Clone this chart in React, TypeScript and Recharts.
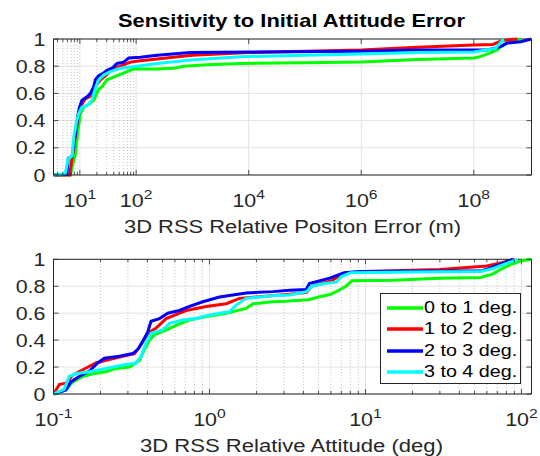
import React from 'react';
import { LineChart, Line, XAxis, YAxis, CartesianGrid, ReferenceLine, Legend } from 'recharts';

const FONT = '"Liberation Sans", Arial, Helvetica, sans-serif';
const INK = '#262626';
const SX = 1.16; // the original figure's text is drawn a bit wide

const seriesNames = ['0 to 1 deg.', '1 to 2 deg.', '2 to 3 deg.', '3 to 4 deg.'];
const seriesColors = ['#00ff00', '#ff0000', '#0000ff', '#00ffff'];

const yTicks = [0, 0.2, 0.4, 0.6, 0.8, 1];

// upper plot: relative position error (m) vs fraction
const posDomain = [3.4, 1.06e9];
const posTicks = [10, 100, 1e4, 1e6, 1e8];
const posMinor = [4, 5, 6, 7, 8, 9, 20, 30, 40, 50, 60, 70, 80, 90];

const posGreen = [
  [3.4, 0], [6.8, 0], [7.3, 0.06], [8.3, 0.15], [9.1, 0.3], [10.2, 0.45], [11.7, 0.5], [14.4, 0.52],
  [17.6, 0.55], [21.6, 0.63], [24.8, 0.65], [30.4, 0.7], [39.9, 0.72], [52.5, 0.74], [69, 0.76],
  [90.6, 0.78], [235, 0.78], [466, 0.785], [700, 0.8], [1820, 0.81], [7130, 0.82], [1e5, 0.825],
  [1e6, 0.83], [1e7, 0.85], [1e8, 0.86], [1.3e8, 0.87], [1.75e8, 0.89], [2.6e8, 0.92], [3.4e8, 0.96],
  [4.5e8, 0.985], [6.8e8, 1.0],
];
const posRed = [
  [3.4, 0], [6.6, 0], [7.0, 0.08], [7.8, 0.2], [8.9, 0.38], [10.2, 0.5], [12.5, 0.56], [15.4, 0.58],
  [18.9, 0.65], [23.2, 0.7], [30.4, 0.74], [37.3, 0.78], [52.5, 0.8], [79, 0.83], [119, 0.84],
  [1000, 0.88], [1e4, 0.9], [1e5, 0.91], [1e6, 0.92], [1e7, 0.94], [1e8, 0.955], [2.2e8, 0.96],
  [3.2e8, 0.99], [6e8, 1.0],
];
const posBlue = [
  [3.4, 0], [5.9, 0.005], [6.2, 0.12], [7.3, 0.14], [7.8, 0.23], [8.7, 0.35], [9.1, 0.43], [9.9, 0.5],
  [10.9, 0.55], [13.4, 0.575], [15.4, 0.6], [17.6, 0.65], [18.9, 0.7], [21.6, 0.73], [26.5, 0.75],
  [30.4, 0.77], [37.3, 0.785], [45.8, 0.82], [60.1, 0.83], [73.8, 0.86], [119, 0.866], [235, 0.88],
  [920, 0.9], [1e4, 0.905], [1e6, 0.91], [1e7, 0.92], [1.7e8, 0.92], [2.3e8, 0.93], [3.2e8, 0.95],
  [3.9e8, 0.97], [6.8e8, 0.98], [1.06e9, 1.0],
];
const posCyan = [
  [3.4, 0], [5.5, 0.01], [6.2, 0.12], [7.3, 0.14], [7.8, 0.28], [8.7, 0.39], [9.5, 0.45], [10.9, 0.5],
  [13.4, 0.51], [16.4, 0.55], [18.9, 0.64], [21.6, 0.7], [26.5, 0.735], [34.8, 0.76], [52.5, 0.785],
  [104, 0.8], [235, 0.82], [920, 0.845], [7130, 0.87], [1e5, 0.88], [1e6, 0.89], [1e7, 0.9],
  [1e8, 0.905], [2.4e8, 0.93], [3.4e8, 1.0],
];

// lower plot: relative attitude (deg) vs fraction
const attDomain = [0.1, 116];
const attTicks = [0.1, 1, 10, 100];
const attMinor = [0.2, 0.3, 0.4, 0.5, 0.6, 0.7, 0.8, 0.9, 2, 3, 4, 5, 6, 7, 8, 9, 20, 30, 40, 50, 60, 70, 80, 90];

const attGreen = [
  [0.1, 0], [0.12, 0.03], [0.133, 0.09], [0.154, 0.13], [0.178, 0.15], [0.217, 0.165], [0.252, 0.19],
  [0.307, 0.2], [0.322, 0.215], [0.356, 0.25], [0.383, 0.33], [0.412, 0.4], [0.444, 0.44], [0.527, 0.475],
  [0.611, 0.51], [0.744, 0.55], [0.952, 0.575], [1.28, 0.6], [1.72, 0.635], [1.9, 0.67], [2.55, 0.685],
  [3.26, 0.69], [4.3, 0.7], [5, 0.72], [6, 0.74], [6.5, 0.76], [7.5, 0.8], [8.2, 0.84], [15, 0.845],
  [30, 0.86], [55, 0.865], [65, 0.89], [75, 0.93], [85, 0.96], [100, 0.99], [116, 1.0],
];
const attRed = [
  [0.1, 0], [0.109, 0.07], [0.12, 0.08], [0.133, 0.14], [0.154, 0.18], [0.187, 0.23], [0.217, 0.25],
  [0.278, 0.28], [0.33, 0.3], [0.356, 0.35], [0.383, 0.41], [0.412, 0.46], [0.455, 0.49], [0.527, 0.56],
  [0.611, 0.59], [0.708, 0.62], [0.952, 0.65], [1.28, 0.67], [1.56, 0.71], [1.99, 0.72], [3.26, 0.74],
  [4.2, 0.755], [4.5, 0.8], [6, 0.84], [7.5, 0.9], [10, 0.91], [30, 0.925], [60, 0.95], [75, 0.975],
  [90, 1.0],
];
const attBlue = [
  [0.1, 0], [0.12, 0.03], [0.129, 0.09], [0.146, 0.13], [0.17, 0.17], [0.192, 0.23], [0.212, 0.265],
  [0.264, 0.28], [0.322, 0.3], [0.347, 0.33], [0.373, 0.39], [0.402, 0.46], [0.422, 0.54], [0.478, 0.56],
  [0.54, 0.6], [0.642, 0.62], [0.744, 0.65], [0.906, 0.685], [1.16, 0.72], [1.72, 0.75], [2.55, 0.76],
  [3.26, 0.77], [4.16, 0.775], [4.37, 0.82], [5.9, 0.86], [7.3, 0.9], [9.4, 0.91], [55.7, 0.915],
  [61.6, 0.93], [75.5, 0.97], [88, 1.0],
];
const attCyan = [
  [0.1, 0], [0.117, 0.035], [0.126, 0.13], [0.139, 0.15], [0.17, 0.165], [0.217, 0.19], [0.278, 0.215],
  [0.338, 0.23], [0.364, 0.28], [0.392, 0.38], [0.422, 0.45], [0.501, 0.475], [0.554, 0.525],
  [0.674, 0.55], [0.821, 0.56], [0.906, 0.575], [1.16, 0.6], [1.34, 0.61], [1.48, 0.66], [1.72, 0.71],
  [2.55, 0.73], [3.26, 0.735], [4.2, 0.76], [4.5, 0.8], [5.5, 0.82], [6.5, 0.83], [7, 0.87], [8, 0.9],
  [20, 0.905], [55, 0.91], [65, 0.93], [80, 0.97], [95, 1.0],
];

const toPoints = (pts: number[][]) => pts.map(([x, y]) => ({ x, y }));

const PLOT_W = 478;

// log-axis tick: inward tick marks on bottom and top edges, "10^n" label for majors
const makeXTick = (majors: number[], plotH: number) => (props: any) => {
  const { x, y, payload } = props;
  const v = payload.value;
  const major = majors.includes(v);
  const len = major ? 5 : 3;
  const exp = Math.round(Math.log10(v));
  return (
    <g>
      <line x1={x} x2={x} y1={y} y2={y - len} stroke={INK} strokeWidth={0.8} />
      <line x1={x} x2={x} y1={y - plotH} y2={y - plotH + len} stroke={INK} strokeWidth={0.8} />
      {major && (
        <text
          transform={`translate(${x},${y + 32}) scale(${SX},1)`}
          textAnchor="middle"
          fill={INK}
          fontFamily={FONT}
          fontSize={18.5}
        >
          <tspan>10</tspan>
          <tspan dy={-8} fontSize={13.5}>{exp}</tspan>
        </text>
      )}
    </g>
  );
};

const YTick = (props: any) => {
  const { x, y, payload } = props;
  const ax = x + 8;
  return (
    <g>
      <line x1={ax} x2={ax + 5} y1={y} y2={y} stroke={INK} strokeWidth={0.8} />
      <line x1={ax + PLOT_W} x2={ax + PLOT_W - 5} y1={y} y2={y} stroke={INK} strokeWidth={0.8} />
      <text
        transform={`translate(${x},${y}) scale(${SX},1)`}
        textAnchor="end"
        dy="0.36em"
        fill={INK}
        fontFamily={FONT}
        fontSize={18.5}
      >
        {String(payload.value)}
      </text>
    </g>
  );
};

const LegendBox = () => (
  <div
    style={{
      border: `1px solid ${INK}`,
      background: '#fff',
      width: 141,
      height: 91,
      boxSizing: 'border-box',
      paddingTop: 3,
      fontFamily: FONT,
      fontSize: 17,
      color: '#000',
    }}
  >
    {seriesNames.map((name, i) => (
      <div key={name} style={{ display: 'flex', alignItems: 'center', height: 21.3 }}>
        <svg width={43} height={10} style={{ marginLeft: 5, flex: 'none' }}>
          <line x1={1} y1={5} x2={37} y2={5} stroke={seriesColors[i]} strokeWidth={3.5} />
        </svg>
        <span
          style={{
            marginLeft: -5,
            whiteSpace: 'nowrap',
            display: 'inline-block',
            transform: `scaleX(${SX})`,
            transformOrigin: 'left center',
          }}
        >
          {name}
        </span>
      </div>
    ))}
  </div>
);

type PanelProps = {
  domain: number[];
  ticks: number[];
  minor: number[];
  series: number[][][];
  marginTop: number;
  axisHeight: number;
  showLegend?: boolean;
};

const Panel = ({ domain, ticks, minor, series, marginTop, axisHeight, showLegend }: PanelProps) => {
  const plotH = 228 - marginTop - axisHeight;
  const allTicks = [...ticks, ...minor].sort((a, b) => a - b);
  return (
    <LineChart width={540} height={228} margin={{ top: marginTop, right: 8.5, left: 0, bottom: 0 }}>
      <CartesianGrid horizontal vertical={false} stroke="#e3e3e3" />
      {minor.map((v) => (
        <ReferenceLine key={`m${v}`} x={v} stroke="#b8b8b8" strokeDasharray="1 2" strokeWidth={0.8} />
      ))}
      {ticks.map((v) => (
        <ReferenceLine key={`t${v}`} x={v} stroke="#e3e3e3" />
      ))}
      <XAxis
        type="number"
        dataKey="x"
        scale="log"
        domain={domain}
        allowDataOverflow
        ticks={allTicks}
        interval={0}
        tick={makeXTick(ticks, plotH)}
        tickLine={false}
        tickSize={0}
        tickMargin={0}
        height={axisHeight}
        axisLine={{ stroke: INK }}
      />
      <YAxis
        type="number"
        domain={[0, 1]}
        ticks={yTicks}
        interval={0}
        width={53.5}
        tickLine={false}
        tickSize={0}
        tickMargin={8}
        axisLine={{ stroke: INK }}
        tick={YTick}
      />
      <ReferenceLine y={1} stroke={INK} />
      <ReferenceLine x={domain[1]} stroke={INK} />
      {series.map((pts, i) => (
        <Line
          key={seriesNames[i]}
          data={toPoints(pts)}
          dataKey="y"
          name={seriesNames[i]}
          type="linear"
          stroke={seriesColors[i]}
          strokeWidth={3}
          dot={false}
          isAnimationActive={false}
        />
      ))}
      {showLegend && (
        <Legend
          layout="horizontal"
          verticalAlign="middle"
          content={<LegendBox />}
          wrapperStyle={{ top: 65.3, left: 379.5, width: 141, height: 91 }}
        />
      )}
    </LineChart>
  );
};

export default function App() {
  return (
    <div style={{ position: 'fixed', left: 0, top: 0, width: 540, height: 456, background: '#fff' }}>
      <div style={{ position: 'absolute', left: 0, top: 0 }}>
        <Panel
          domain={posDomain}
          ticks={posTicks}
          minor={posMinor}
          series={[posGreen, posRed, posBlue, posCyan]}
          marginTop={39}
          axisHeight={53}
        />
      </div>
      <div style={{ position: 'absolute', left: 0, top: 228 }}>
        <Panel
          domain={attDomain}
          ticks={attTicks}
          minor={attMinor}
          series={[attGreen, attRed, attBlue, attCyan]}
          marginTop={31.3}
          axisHeight={62}
          showLegend
        />
      </div>
      <svg
        width={540}
        height={456}
        style={{ position: 'absolute', left: 0, top: 0, pointerEvents: 'none' }}
        fontFamily={FONT}
        fill={INK}
      >
        <text
          x={291.5}
          y={27}
          textAnchor="middle"
          fontSize={18.6}
          fontWeight="bold"
          fill="#000"
          textLength={347}
          lengthAdjust="spacingAndGlyphs"
        >
          Sensitivity to Initial Attitude Error
        </text>
        <text x={292.5} y={233} textAnchor="middle" fontSize={17.5} textLength={337} lengthAdjust="spacingAndGlyphs">
          3D RSS Relative Positon Error (m)
        </text>
        <text x={291.5} y={452} textAnchor="middle" fontSize={17.5} textLength={303} lengthAdjust="spacingAndGlyphs">
          3D RSS Relative Attitude (deg)
        </text>
      </svg>
    </div>
  );
}
